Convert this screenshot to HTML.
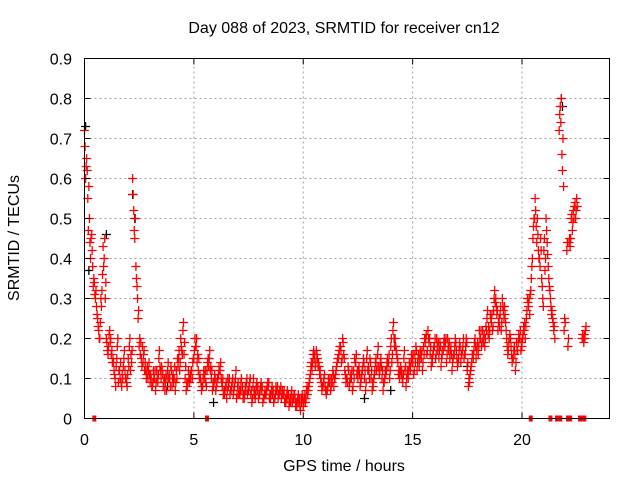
<!DOCTYPE html>
<html><head><meta charset="utf-8"><style>
html,body{margin:0;padding:0;background:#fff;}
svg{display:block;font-family:"Liberation Sans","DejaVu Sans",sans-serif;}
</style></head><body>
<svg id="chart" width="640" height="480" viewBox="0 0 640 480">
<text x="344" y="33" font-size="16" text-anchor="middle">Day 088 of 2023, SRMTID for receiver cn12</text>
<text transform="translate(19,238) rotate(-90)" font-size="16" text-anchor="middle">SRMTID / TECUs</text>
<text x="344" y="471" font-size="16" text-anchor="middle">GPS time / hours</text>
<g id="grid"></g>
<g id="marks"></g>
<rect x="84.5" y="58.5" width="525" height="360" fill="none" stroke="#000" stroke-width="1"/>
<g id="ticks"></g>
</svg>
<script>
const xTicks=[0,5,10,15,20];
const yTicks=[0,0.1,0.2,0.3,0.4,0.5,0.6,0.7,0.8,0.9];
const yTickLabels=["0","0.1","0.2","0.3","0.4","0.5","0.6","0.7","0.8","0.9"];
// series A sampled every 0.1 h from 0
const seriesA=[0.72,0.65,0.58,0.45,0.33,0.3,0.25,0.2,0.32,0.4,
0.2,0.18,0.2,0.15,0.1,0.18,0.12,0.08,0.15,0.1,
0.15,0.12,0.6,0.45,0.33,0.18,0.15,0.16,0.12,0.1,
0.09,0.08,0.1,0.12,0.15,0.1,0.08,0.09,0.12,0.1,
0.08,0.1,0.12,0.15,0.2,0.22,0.1,0.08,0.09,0.12,
0.15,0.18,0.12,0.1,0.08,0.1,0.12,0.15,0.1,0.08,
0.07,0.1,0.12,0.08,0.06,0.05,0.09,0.07,0.06,0.1,
0.08,0.06,0.07,0.05,0.09,0.07,0.06,0.08,0.05,0.07,
0.06,0.07,0.05,0.06,0.08,0.05,0.06,0.05,0.07,0.06,
0.05,0.06,0.04,0.05,0.05,0.04,0.06,0.03,0.04,0.05,
0.03,0.04,0.06,0.1,0.12,0.15,0.17,0.14,0.1,0.08,
0.08,0.07,0.09,0.1,0.08,0.12,0.15,0.18,0.2,0.12,
0.1,0.08,0.1,0.12,0.14,0.1,0.08,0.12,0.1,0.15,
0.12,0.1,0.08,0.14,0.16,0.12,0.1,0.09,0.12,0.14,
0.18,0.22,0.2,0.15,0.1,0.12,0.15,0.08,0.1,0.12,
0.14,0.16,0.12,0.13,0.15,0.18,0.2,0.22,0.16,0.14,
0.18,0.2,0.15,0.13,0.17,0.19,0.2,0.15,0.12,0.16,
0.17,0.15,0.14,0.18,0.16,0.12,0.09,0.14,0.17,0.15,
0.16,0.2,0.22,0.18,0.25,0.2,0.24,0.27,0.3,0.22,
0.26,0.3,0.28,0.2,0.19,0.18,0.15,0.12,0.17,0.2,
0.18,0.22,0.25,0.28,0.32,0.45,0.55,0.5,0.4,0.35,
0.42,0.5,0.38,0.3,0.25,0.2,null,0.72,0.8,0.58,
null,0.18,0.43,0.47,0.53,0.55,null,null,0.2,0.22];
// series B sampled every 0.1 h from 0.05
const seriesB=[0.6,0.55,0.44,0.42,0.34,0.28,0.22,0.3,0.43,0.3,
0.17,0.22,0.17,0.12,0.13,0.09,0.14,0.1,0.12,0.08,
0.18,0.14,0.52,0.38,0.25,0.16,0.18,0.12,0.11,0.14,
0.1,0.12,0.07,0.09,0.13,0.12,0.1,0.07,0.1,0.13,
0.11,0.07,0.15,0.12,0.17,0.16,0.07,0.12,0.1,0.14,
0.2,0.14,0.1,0.07,0.12,0.09,0.15,0.12,0.07,0.11,
0.09,0.13,0.1,0.06,0.08,0.1,0.06,0.09,0.08,0.05,
0.06,0.09,0.05,0.08,0.06,0.09,0.04,0.06,0.08,0.05,
0.08,0.04,0.07,0.08,0.05,0.07,0.04,0.08,0.05,0.07,
0.07,0.04,0.06,0.03,0.06,0.05,0.03,0.05,0.03,0.06,
0.05,0.07,0.08,0.13,0.16,0.13,0.15,0.11,0.07,0.1,
0.06,0.1,0.07,0.12,0.1,0.14,0.17,0.14,0.16,0.09,
0.13,0.1,0.07,0.15,0.11,0.13,0.1,0.15,0.07,0.12,
0.15,0.07,0.11,0.12,0.13,0.15,0.07,0.12,0.15,0.1,
0.14,0.2,0.17,0.11,0.13,0.09,0.12,0.11,0.14,0.16,
0.11,0.18,0.15,0.17,0.12,0.2,0.16,0.19,0.13,0.17,
0.15,0.17,0.19,0.16,0.2,0.14,0.17,0.18,0.15,0.2,
0.13,0.19,0.16,0.15,0.2,0.08,0.12,0.16,0.2,0.18,
0.22,0.18,0.19,0.23,0.21,0.26,0.22,0.32,0.26,0.25,
0.22,0.27,0.24,0.16,0.21,0.14,0.18,0.19,0.21,0.17,
0.21,0.2,0.3,0.26,0.38,0.5,0.48,0.42,0.45,0.3,
0.37,0.44,0.33,0.26,0.22,null,null,0.78,0.62,0.25,
0.42,0.44,0.5,0.52,0.5,null,null,0.2,0.21,null];
// series C sampled every 0.1 h from 0.025
const seriesC=[0.68,0.62,0.5,0.46,0.35,0.32,0.23,0.24,0.36,0.45,
0.19,0.21,0.16,0.14,0.08,0.2,0.1,0.11,0.17,0.09,
0.13,0.16,0.56,0.5,0.3,0.2,0.13,0.17,0.1,0.12,
0.11,0.09,0.12,0.1,0.17,0.13,0.09,0.11,0.14,0.08,
0.1,0.13,0.1,0.17,0.18,0.24,0.13,0.09,0.11,0.1,
0.17,0.2,0.15,0.09,0.1,0.12,0.14,0.17,0.12,0.09,
0.08,0.11,0.14,0.1,0.07,0.07,0.1,0.08,0.07,0.12,
0.09,0.07,0.08,0.06,0.1,0.08,0.07,0.1,0.06,0.08,
0.07,0.08,0.06,0.07,0.09,0.06,0.07,0.06,0.08,0.07,
0.06,0.07,0.05,0.06,0.04,0.05,0.05,0.04,0.05,0.04,
0.04,0.05,0.07,0.11,0.14,0.16,0.16,0.13,0.09,0.09,
0.07,0.08,0.1,0.09,0.1,0.13,0.16,0.17,0.19,0.11,
0.09,0.09,0.12,0.1,0.16,0.12,0.09,0.13,0.12,0.17,
0.1,0.12,0.1,0.15,0.18,0.14,0.12,0.1,0.14,0.16,
0.2,0.24,0.18,0.14,0.12,0.1,0.17,0.1,0.12,0.14,
0.16,0.14,0.14,0.15,0.17,0.16,0.21,0.2,0.18,0.16,
0.2,0.18,0.17,0.15,0.19,0.2,0.18,0.17,0.14,0.18,
0.15,0.17,0.16,0.2,0.18,0.14,0.11,0.16,0.19,0.17,
0.18,0.22,0.2,0.2,0.27,0.22,0.26,0.3,0.28,0.24,
0.28,0.28,0.26,0.18,0.2,0.16,0.17,0.14,0.19,0.22,
0.2,0.24,0.27,0.3,0.35,0.48,0.52,0.46,0.38,0.33,
0.45,0.47,0.35,0.28,0.24,null,null,0.76,0.66,0.22,
null,0.2,0.45,0.49,0.54,0.53,null,null,0.19,0.23];
// series D sampled every 0.1 h from 0.075
const seriesD=[0.63,0.47,0.4,0.38,0.31,0.26,0.2,0.28,0.38,0.34,
0.16,0.19,0.14,0.11,0.15,0.12,0.09,0.13,0.1,0.11,
0.2,0.17,0.47,0.35,0.27,0.19,0.14,0.14,0.13,0.11,
0.08,0.1,0.09,0.11,0.12,0.11,0.07,0.1,0.11,0.12,
0.09,0.09,0.13,0.14,0.16,0.19,0.09,0.1,0.12,0.15,
0.18,0.16,0.11,0.08,0.11,0.08,0.13,0.13,0.09,0.1,
0.1,0.12,0.09,0.07,0.09,0.08,0.07,0.1,0.09,0.06,
0.07,0.1,0.06,0.07,0.07,0.1,0.05,0.07,0.09,0.06,
0.09,0.05,0.06,0.09,0.06,0.08,0.05,0.07,0.06,0.08,
0.06,0.05,0.07,0.04,0.07,0.06,0.04,0.06,0.02,0.05,
0.06,0.08,0.09,0.14,0.17,0.14,0.13,0.12,0.08,0.11,
0.07,0.09,0.08,0.11,0.11,0.15,0.18,0.15,0.15,0.1,
0.12,0.11,0.08,0.14,0.12,0.11,0.11,0.14,0.09,0.13,
0.14,0.09,0.12,0.13,0.11,0.13,0.09,0.11,0.13,0.12,
0.16,0.18,0.16,0.12,0.11,0.11,0.13,0.12,0.13,0.15,
0.12,0.17,0.16,0.16,0.14,0.19,0.17,0.2,0.15,0.18,
0.16,0.19,0.18,0.17,0.18,0.16,0.19,0.16,0.16,0.19,
0.14,0.18,0.17,0.16,0.19,0.1,0.13,0.15,0.18,0.19,
0.2,0.19,0.21,0.22,0.23,0.25,0.23,0.29,0.27,0.23,
0.24,0.25,0.22,0.17,0.2,0.15,0.16,0.17,0.2,0.19,
0.23,0.23,0.29,0.31,0.4,0.5,0.44,0.4,0.42,0.28,
0.4,0.41,0.32,0.27,0.23,null,null,0.74,0.7,0.24,
0.44,0.45,0.51,0.5,0.52,null,null,0.21,0.2,null];
const blackT=[0.05,0.2,1.0,2.2,2.3,3.8,5.9,12.8,14.0,17.5,21.8,21.85,22.4];
const blackV=[0.73,0.37,0.46,0.56,0.5,0.08,0.04,0.05,0.07,0.13,0.8,0.78,0.53];
const zeroT=[0.45,5.6,20.4,21.3,21.6,21.75,22.1,22.2,22.65,22.75,22.85];

const X0=84.5,X1=609.5,Y0=418.5,Y1=58.5,XMAX=24,YMAX=0.9;
const xs=t=>X0+(X1-X0)*t/XMAX;
const ys=v=>Y0-(Y0-Y1)*v/YMAX;
const NS="http://www.w3.org/2000/svg";
function mk(tag,attrs,parent){const e=document.createElementNS(NS,tag);for(const k in attrs)e.setAttribute(k,attrs[k]);parent.appendChild(e);return e;}
const grid=document.getElementById('grid'),ticks=document.getElementById('ticks'),marks=document.getElementById('marks');
xTicks.forEach(t=>{
  const x=xs(t);
  if(t>0){const g=mk('line',{x1:x,x2:x,y1:Y0,y2:Y1,stroke:'#a0a0a0','stroke-dasharray':'2,3'},grid);
  
  }
  mk('line',{x1:x,x2:x,y1:Y0,y2:Y0-6,stroke:'#000'},ticks);
  mk('line',{x1:x,x2:x,y1:Y1,y2:Y1+6,stroke:'#000'},ticks);
  const l=mk('text',{x:x,y:445,'font-size':16,'text-anchor':'middle'},ticks);l.textContent=t;
  
  
});
yTicks.forEach((v,i)=>{
  const y=ys(v);
  if(v>0){const g=mk('line',{x1:X0,x2:X1,y1:y,y2:y,stroke:'#a0a0a0','stroke-dasharray':'2,3'},grid);
  
  }
  mk('line',{x1:X0,x2:X0+6,y1:y,y2:y,stroke:'#000'},ticks);
  mk('line',{x1:X1,x2:X1-6,y1:y,y2:y,stroke:'#000'},ticks);
  const l=mk('text',{x:72,y:y+6,'font-size':16,'text-anchor':'end'},ticks);l.textContent=yTickLabels[i];
  
  
});
function plus(t,v,col){
  const x=xs(t),y=ys(v);
  const p=mk('path',{d:`M${x-4.5},${y}H${x+4.5}M${x},${y-4.5}V${y+4.5}`,stroke:col,'stroke-width':1.3,fill:'none'},marks);
  
  
}
blackT.forEach((t,i)=>plus(t,blackV[i],'#000'));
seriesA.forEach((v,i)=>{if(v!==null)plus(i*0.1,v,'#ff0000');});
seriesB.forEach((v,i)=>{if(v!==null)plus(i*0.1+0.05,v,'#ff0000');});
seriesC.forEach((v,i)=>{if(v!==null)plus(i*0.1+0.025,v,'#ff0000');});
seriesD.forEach((v,i)=>{if(v!==null)plus(i*0.1+0.075,v,'#ff0000');});
zeroT.forEach(t=>{const r=mk('rect',{x:xs(t)-2,y:Y0-3,width:4,height:6,fill:'#ff0000'},marks);
  
  });
</script>
</body></html>
